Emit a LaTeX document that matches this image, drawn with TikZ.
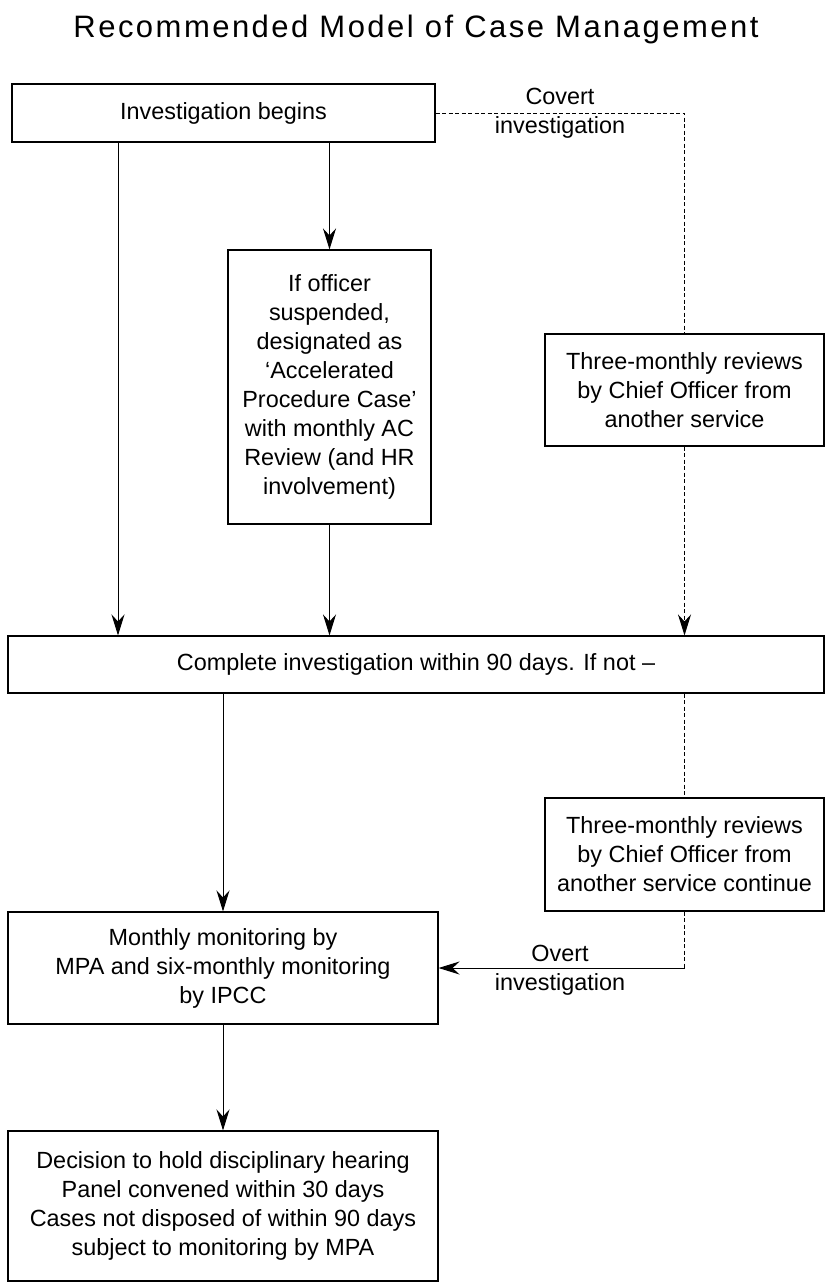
\documentclass[tikz,border=0pt]{standalone}
\usepackage{fontspec}
\setmainfont{Liberation Sans}
\newfontfamily\titlefont[LetterSpace=8]{Liberation Sans}
\usetikzlibrary{arrows.meta}
\newcommand\bfnt{\fontsize{23.4}{29}\selectfont}
\begin{document}
\begin{tikzpicture}[x=1pt,y=-1pt,
  box/.style={draw, line width=1.1pt, align=center, inner sep=0pt, font=\bfnt},
  arr/.style={line width=1pt, -{Stealth[length=21pt,width=13pt,inset=7pt]}},
  dsh/.style={line width=1pt, dash pattern=on 4pt off 2.5pt},
  lbl/.style={align=center, font=\bfnt, inner sep=0pt}]
\useasboundingbox (0,0) rectangle (826,1283);
\node[font=\titlefont\fontsize{31}{35}\selectfont, inner sep=0pt] (title) at (416,29) {Recommended Model of Case Management};
\node[box, minimum width=423pt, minimum height=58pt] (b1) at (223.5,113) {Investigation begins};
\node[box, minimum width=203pt, minimum height=274pt] (b2) at (329.5,387) {If officer\\suspended,\\designated as\\‘Accelerated\\Procedure Case’\\with monthly AC\\Review (and HR\\involvement)};
\node[box, minimum width=279pt, minimum height=112pt] (b3) at (684.5,390) {Three-monthly reviews\\by Chief Officer from\\another service};
\node[box, minimum width=816pt, minimum height=57pt] (b4) at (416,664.5) {Complete investigation within 90 days. If not –};
\node[box, minimum width=279pt, minimum height=113pt] (b6) at (684.5,854.5) {Three-monthly reviews\\by Chief Officer from\\another service continue};
\node[box, minimum width=430pt, minimum height=112pt] (b5) at (223,968) {Monthly monitoring by\\MPA and six-monthly monitoring\\by IPCC};
\node[box, minimum width=430pt, minimum height=150pt] (b7) at (223,1206) {Decision to hold disciplinary hearing\\Panel convened within 30 days\\Cases not disposed of within 90 days\\subject to monitoring by MPA};
\node[lbl] (covert) at (560,113) {Covert\\investigation};
\node[lbl] (overt) at (560,970) {Overt\\investigation};
\coordinate (xL) at (118,0);
\coordinate (corner) at (684.5,968);
\draw[arr] (b1.south -| xL) -- (b4.north -| xL);
\draw[arr] (b1.south -| b2.north) -- (b2.north);
\draw[arr] (b2.south) -- (b4.north -| b2.south);
\draw[dsh] (b1.east) -- (b1.east -| b3.north) -- (b3.north);
\draw[dsh, arr] (b3.south) -- (b4.north -| b3.south);
\draw[dsh] (b4.south -| b6.north) -- (b6.north);
\draw[dsh] (b6.south) -- (corner);
\draw[arr] (corner) -- (b5.east);
\draw[arr] (b4.south -| b5.north) -- (b5.north);
\draw[arr] (b5.south) -- (b7.north);
\end{tikzpicture}
\end{document}
